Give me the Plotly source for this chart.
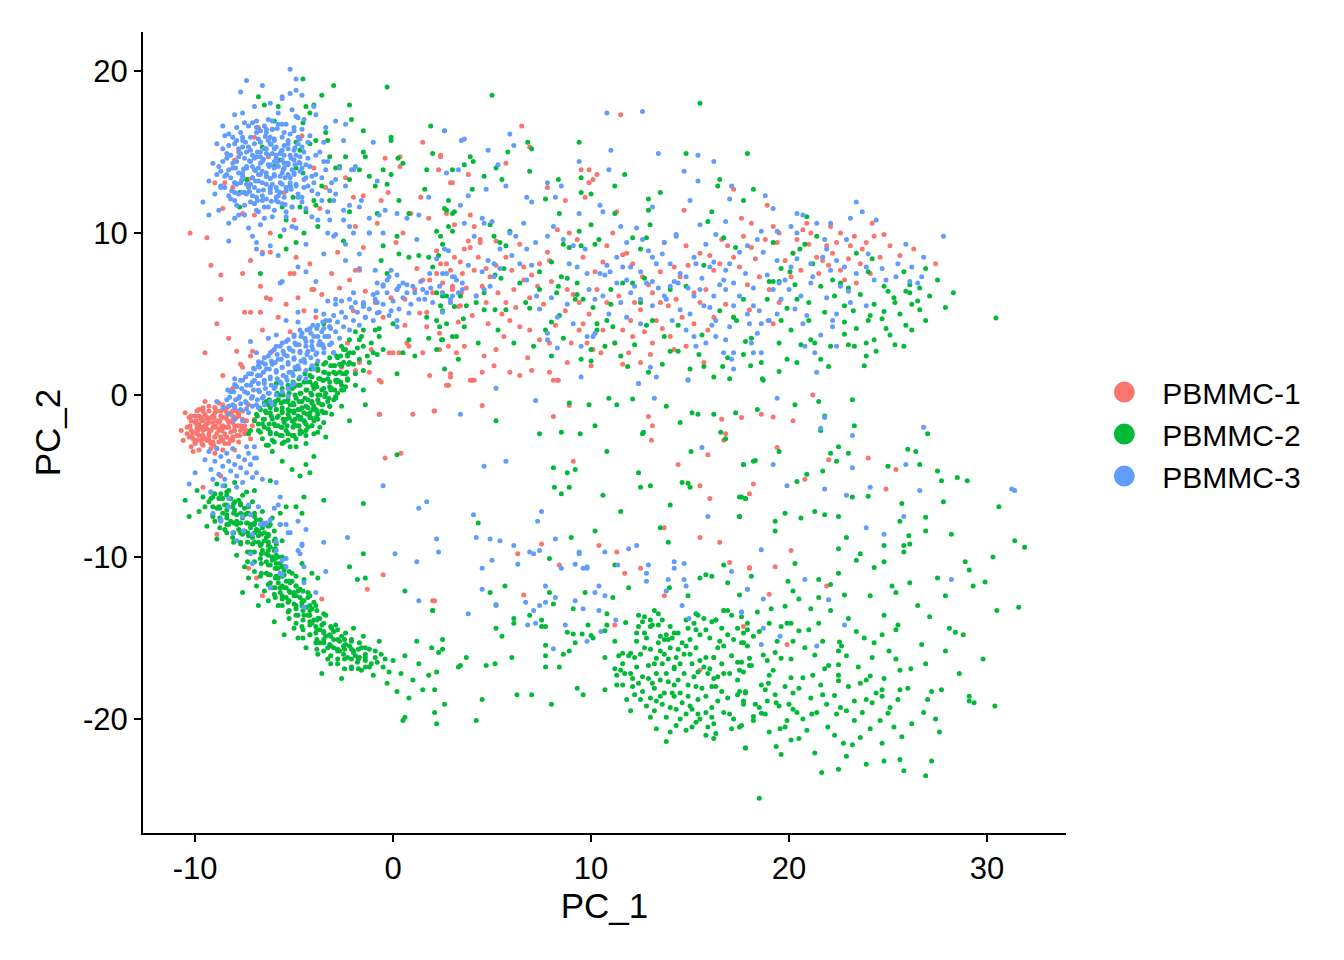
import plotly.graph_objects as go

samples = ["PBMMC-1", "PBMMC-2", "PBMMC-3"]
colors = ["#F8766D", "#00BA38", "#619CFF"]

x_ticks = [-10, 0, 10, 20, 30]
x_tick_labels = ["-10", "0", "10", "20", "30"]
y_ticks = [-20, -10, 0, 10, 20]
y_tick_labels = ["-20", "-10", "0", "10", "20"]

# ---- PBMMC-1 ----
pbmmc1_blob = [
    (-10.5,-1.1),(-10.4,-2.0),(-10.3,-2.6),(-10.2,-1.6),(-10.1,-2.3),(-10.0,-1.3),(-10.0,-2.9),(-9.9,-1.9),
    (-9.8,-2.5),(-9.8,-0.9),(-9.7,-1.5),(-9.6,-2.2),(-9.6,-3.1),(-9.5,-1.2),(-9.5,-2.7),(-9.4,-1.8),
    (-9.3,-0.7),(-9.3,-2.4),(-9.2,-1.4),(-9.2,-3.0),(-9.1,-2.0),(-9.0,-1.1),(-9.0,-2.6),(-8.9,-1.6),
    (-8.9,-3.3),(-8.8,-2.2),(-8.8,-0.5),(-8.7,-1.3),(-8.6,-2.8),(-8.6,-1.9),(-8.5,-0.9),(-8.5,-2.4),
    (-8.4,-1.5),(-8.3,-3.0),(-8.3,-2.0),(-8.2,-1.1),(-8.1,-2.6),(-8.1,-1.7),(-8.0,-0.7),(-8.0,-2.2),
    (-7.9,-1.4),(-7.8,-2.9),(-7.7,-1.9),(-7.6,-1.0),(-7.5,-2.4),(-7.4,-1.6),(-7.3,-0.6),(-9.9,-2.1),
    (-9.4,-2.1),(-8.7,-2.0),(-9.1,-1.7),(-9.7,-2.8),(-8.4,-2.6),(-10.7,-2.2),(-10.2,-3.2),(-9.0,-3.6),
    (-8.0,-3.4),(-9.5,-0.4),(-7.1,-1.9),(-7.2,-2.7),(-9.8,-3.4),(-10.6,-2.8),
    (-10.3,-1.4),(-10.1,-2.7),(-10.0,-1.7),(-9.9,-2.4),(-9.8,-1.3),(-9.7,-2.0),(-9.6,-1.6),(-9.6,-2.5),
    (-9.5,-1.9),(-9.4,-1.4),(-9.4,-2.8),(-9.3,-1.7),(-9.2,-2.2),(-9.1,-1.3),(-9.1,-2.9),(-9.0,-1.9),
    (-8.9,-2.4),(-8.9,-1.0),(-8.8,-1.7),(-8.7,-2.6),(-8.6,-1.4),(-8.5,-2.0),(-8.5,-3.0),(-8.4,-1.1),
    (-8.3,-1.7),(-8.2,-2.3),(-8.1,-1.3),(-8.0,-1.9),(-7.9,-2.5),(-7.8,-1.2),(-7.7,-2.2),(-7.6,-1.5),
    (-7.5,-1.9),(-9.8,-1.8),(-10.2,-2.2),(-9.3,-2.6),(-8.8,-2.9),(-8.2,-2.8),(-9.0,-0.8),(-9.6,-1.0),
    (-10.4,-2.4),(-8.6,-0.6),(-7.9,-1.0),(-7.4,-2.2),(-7.0,-1.5),(-9.2,-3.3),(-8.6,-3.4),(-10.0,-3.0),
]
pbmmc1_blob_core = [
    (-10.2,-1.3),(-10.25,-1.9),(-10.15,-2.5),(-9.9,-1.0),(-9.95,-1.6),(-9.85,-2.2),(-9.9,-2.8),
    (-9.6,-0.8),(-9.65,-1.4),(-9.55,-2.0),(-9.6,-2.6),(-9.65,-3.0),(-9.3,-1.0),(-9.35,-1.6),(-9.25,-2.2),
    (-9.3,-2.8),(-9.0,-0.8),(-9.05,-1.4),(-8.95,-2.0),(-9.0,-2.6),(-9.05,-3.1),(-8.7,-1.0),(-8.75,-1.6),
    (-8.65,-2.2),(-8.7,-2.8),(-8.4,-0.8),(-8.45,-1.4),(-8.35,-2.0),(-8.4,-2.6),(-8.1,-1.0),(-8.15,-1.6),
    (-8.05,-2.2),(-8.1,-2.8),(-7.8,-1.3),(-7.85,-1.9),(-7.75,-2.5),(-7.5,-1.6),(-7.55,-2.1),
]
pbmmc1_arm = [
    (-10.25,10.0),(-8.7,7.4),(-8.7,5.9),(-8.3,3.5),(-7.9,2.7),(-7.6,7.5),(-7.5,5.1),(-7.2,5.1),(-7.2,8.3),
    (-6.7,6.7),(-6.7,5.1),(-6.6,4.0),(-6.4,6.0),(-6.2,5.9),(-5.8,4.8),(-5.4,5.6),(-5.2,7.5),(-5.0,7.5),
    (-4.9,8.5),(-4.8,6.0),(-4.2,8.1),(-4.1,6.5),(-3.9,4.8),(-3.6,6.2),(-3.2,4.2),(-2.7,6.6),(-2.2,7.1),
    (-2.0,5.2),(-1.7,7.7),(-1.4,6.4),(-0.9,5.7),(-0.5,4.8),(-0.1,6.0),(0.0,2.6),(-0.7,0.9),(-0.7,-1.2),
    (-1.2,1.4),(-1.9,1.5),(-2.6,1.7),(-7.6,1.7),(-7.2,2.4),(-10.1,-3.5),
    (-9.0,13.1),(-8.5,13.1),(-8.1,12.8),(-8.0,14.5),(-7.6,11.2),(-7.0,11.1),(-6.6,8.8),(-6.2,8.8),
    (-6.2,10.0),(-4.0,6.5),(-3.4,12.8),(-2.8,8.8),(-2.4,13.4),(-2.0,12.2),(-1.9,10.4),(-1.5,12.3),
    (-0.8,10.6),(-0.6,12.0),(-0.25,12.5),(-0.4,14.6),(0.35,14.7),(0.35,14.1),(0.15,9.4),(0.5,10.0),
    (1.5,15.6),(2.3,13.9),(2.4,14.7),(2.9,13.1),(1.4,12.2),(0.9,11.2),(1.8,10.9),(-1.5,9.1),(-1.9,7.7),
    (-7.0,15.9),(-7.8,15.0),(-6.3,14.7),(-5.5,12.5),(-4.0,14.0),(-6.8,16.5),(-5.0,10.8),(-3.7,11.5),
    (-7.3,13.3),(-4.6,16.0),(-8.6,11.5),(-9.4,9.7),(-9.2,8.0),(-8.9,4.4),(-9.5,2.6),(-8.6,1.2),
    (-8.1,0.4),(-6.1,2.7),(-5.2,3.9),(-4.5,5.2),(-3.1,7.5),(-2.3,3.2),(-1.1,2.8),(0.6,4.3),(1.2,7.8),
    (1.7,5.1),(-7.1,2.7),(-7.7,1.9),(-1.7,2.0),(-0.6,0.8),(1.85,1.2),(2.9,1.3),(-0.2,2.6),(0.7,3.2),
    (1.5,2.6),(2.35,2.8),
]
pbmmc1_band = [
    (2.7,11.2),(3.1,10.5),(3.9,11.1),(4.1,10.4),(3.8,9.5),(4.4,9.6),(3.6,9.0),(3.9,9.1),(2.7,8.1),
    (3.4,8.2),(4.1,7.7),(4.7,7.8),(4.9,7.3),(4.5,6.7),(3.7,6.6),(3.0,6.5),(2.5,6.9),(2.9,5.7),(3.4,5.5),
    (4.2,6.1),(4.7,5.7),(5.3,6.3),(5.7,5.7),(6.1,6.5),(6.6,7.1),(5.9,4.6),(6.4,4.2),(6.9,4.0),(7.4,3.4),
    (7.9,3.2),(5.6,3.6),(5.2,2.8),(4.6,2.4),(3.6,3.0),(2.9,1.1),(2.7,0.6),(4.0,0.9),(4.5,1.4),(5.1,1.8),
    (5.9,1.4),(6.4,1.2),(7.0,1.5),(7.9,1.4),(8.3,0.9),(8.8,2.0),(9.0,3.2),(9.4,4.0),(9.8,3.2),(10.1,2.8),
    (10.5,2.6),(9.4,5.7),(8.8,6.5),(7.9,8.3),(7.4,8.1),(7.3,6.7),(8.3,10.2),(8.9,10.0),(9.3,9.6),
    (7.8,8.8),(6.6,7.9),(6.4,9.3),(5.7,8.5),(5.2,9.5),(4.4,9.4),
    (2.4,8.1),(2.2,7.5),(1.85,7.1),(2.5,6.3),(3.0,6.7),(3.45,6.3),(3.3,5.45),(2.0,6.3),(1.5,7.1),
    (1.1,6.5),(1.35,5.05),(0.6,5.9),(1.7,4.2),(2.35,3.8),(2.8,3.0),(3.2,2.6),(0.8,3.0),(0.3,2.6),
    (2.9,7.7),(3.1,8.5),(2.2,8.9),
    (11.5,17.3),(6.5,16.6),(2.4,14.8),(6.9,15.3),(5.7,14.3),(9.5,13.9),(9.9,13.9),(10.3,13.6),
    (10.1,13.3),(9.9,13.1),(9.7,12.2),(7.8,12.8),(8.7,12.0),(3.8,13.6),(3.0,13.1),(11.3,11.3),
    (14.7,11.4),(17.2,12.7),(18.9,11.7),(17.6,10.9),(18.1,10.6),
    (10.8,9.2),(11.6,8.65),(11.8,8.75),(12.1,8.1),(12.6,7.3),(13.1,6.3),(13.5,5.7),(12.5,5.25),
    (12.0,4.6),(11.6,4.0),(12.1,3.6),(13.1,3.2),(14.0,3.6),(14.2,2.8),(14.8,3.0),(15.2,4.4),(15.5,5.7),
    (15.8,6.5),(15.2,6.3),(14.5,7.3),(14.2,7.9),(13.7,9.4),(14.8,9.2),(15.5,8.75),(16.2,7.7),(16.5,8.1),
    (16.9,9.2),(17.2,8.5),(17.7,9.8),(18.1,9.1),(18.5,7.3),(19.0,6.5),(19.5,5.7),(20.1,7.3),(20.6,7.7),
    (20.2,8.75),(19.5,10.0),(19.2,10.4),(19.4,9.4),(20.4,9.6),(21.1,10.0),(21.4,8.5),(21.9,9.2),
    (21.7,8.3),(22.2,8.75),(22.6,7.7),(22.4,9.4),(23.1,9.2),(23.3,9.8),(23.6,8.1),(23.9,9.4),(24.3,9.8),
    (25.1,9.2),(24.1,7.5),(24.6,8.5),(22.8,7.1),(22.1,10.4),(20.9,10.6),(27.4,8.1),(23.4,6.9),(19.2,4.4),
    (18.0,5.25),(17.2,4.8),(16.2,4.8),(15.7,2.0),(12.5,2.0),(11.6,1.9),(10.8,5.7),(10.3,6.5),(9.6,4.4),
    (11.1,10.0),(12.2,5.7),(13.3,4.6),
]
pbmmc1_band_more = [
    (3.3,4.5),(4.0,4.9),(4.8,4.4),(5.5,5.0),(6.2,5.4),(6.9,6.0),(7.6,5.6),(8.2,4.3),(8.7,5.2),(9.1,6.2),
    (7.0,7.4),(6.0,7.7),(5.2,8.0),(4.3,8.5),(3.5,7.5),(8.0,7.0),(9.9,5.0),(10.6,4.0),(11.2,3.2),(11.9,2.6),
    (12.7,3.9),(13.6,4.1),(14.6,4.8),(13.9,5.5),(12.9,6.8),(11.4,6.1),(10.2,7.6),(9.6,8.5),(10.6,8.2),
    (13.5,7.6),(14.9,8.0),(16.0,8.6),(16.6,9.6),(17.5,7.9),(18.3,8.4),(18.8,9.6),(19.8,8.3),(21.0,9.3),
    (21.5,7.5),(22.0,8.0),(23.0,8.4),(23.7,9.0),(24.8,9.9),(25.6,8.6),(26.3,9.0),(20.7,10.2),(22.6,10.0),
    (24.2,10.6),(17.9,6.8),(16.8,5.6),(15.9,4.0),(14.3,5.9),(13.0,2.5),(10.0,1.8),(6.8,2.3),
]
pbmmc1_low = [
    (-0.68,-1.2),(1.0,-1.2),(2.07,-1.0),(-0.4,-3.9),(0.4,-3.6),(-0.5,-11.1),(-1.3,-12.0),(-3.6,-12.6),
    (2.1,-12.7),(-6.6,-12.4),(-8.7,-5.0),(-9.6,-5.7),
    (2.8,0.6),(3.9,0.9),(4.1,0.9),(8.1,0.9),(8.35,0.9),(2.1,-1.0),(4.5,-0.66),(8.1,-1.34),(8.9,-0.66),
    (12.9,-1.34),(13.1,-1.9),(13.05,-2.8),(16.6,-1.5),(16.8,-2.4),(16.7,-2.8),(17.6,-1.4),(9.1,-4.1),
    (14.4,-4.3),(15.9,-3.7),(15.5,-5.6),(16.0,-6.4),(18.0,-6.1),(13.7,-8.2),(15.5,-8.8),(16.5,-9.1),
    (7.5,-9.2),(6.3,-9.8),(8.4,-10.5),(10.4,-9.3),(11.3,-9.7),(11.7,-11.0),(12.5,-10.7),(17.0,-10.35),
    (18.0,-10.7),(6.6,-12.35),(2.0,-12.7),(13.7,-12.4),(16.7,-13.3),(17.7,-14.3),(11.2,-14.2),
    (16.2,-16.2),(15.5,-17.0),
    (21.2,0.0),(18.6,-1.2),(19.2,-1.36),(20.2,-1.6),(19.4,-3.25),(22.0,-4.0),(24.0,-3.9),(25.4,-4.6),
    (24.9,-5.8),(20.8,-5.2),(18.2,-5.5),(20.1,-9.6),(18.0,-10.65),(19.3,-10.6),(19.0,-12.3),
    (21.9,-11.8),(19.9,-15.4),(-8.9,-8.6),(-7.3,-10.7),(-6.9,-11.3),
]

# ---- PBMMC-2 ----
pbmmc2_blob = [
    (-7.0,-1.6),(-6.8,-2.2),(-6.7,-0.9),(-6.6,-2.7),(-6.5,-1.5),(-6.4,-0.4),(-6.3,-2.1),(-6.2,-1.1),
    (-6.1,-2.8),(-6.0,-0.6),(-6.0,-1.8),(-5.9,-2.4),(-5.8,-1.3),(-5.7,0.0),(-5.6,-0.8),(-5.6,-2.0),
    (-5.5,-2.9),(-5.4,-1.5),(-5.3,-0.3),(-5.3,-2.4),(-5.2,-1.0),(-5.1,0.4),(-5.0,-1.8),(-5.0,-0.6),
    (-4.9,-2.7),(-4.8,-1.3),(-4.7,0.1),(-4.7,-2.2),(-4.6,-0.8),(-4.5,0.8),(-4.5,-1.6),(-4.4,-2.5),
    (-4.3,-0.3),(-4.2,-1.1),(-4.2,1.2),(-4.1,-1.9),(-4.0,0.4),(-4.0,-0.7),(-3.9,-1.4),(-3.8,1.6),
    (-3.8,-2.3),(-3.7,0.0),(-3.6,-1.0),(-3.5,0.9),(-3.5,-1.7),(-3.4,2.0),(-3.3,-0.4),(-3.2,0.5),
    (-3.1,-1.2),(-3.0,1.4),(-3.0,2.6),(-2.9,-0.1),(-2.8,0.9),(-2.7,1.9),(-2.6,-0.7),(-2.6,3.0),
    (-2.5,0.3),(-2.4,1.3),(-2.3,2.4),(-2.2,3.4),(-2.0,1.9),(-1.9,0.6),(-1.8,2.9),(-1.6,3.6),(-1.5,1.5),
    (-1.3,2.4),(-1.1,3.2),(-0.9,4.0),(-6.3,-3.1),(-5.2,-3.2),(-4.4,-3.0),(-3.4,-2.6),(-7.3,-2.4),
    (-5.9,0.7),(-4.9,1.6),(-2.2,-1.6),(-3.6,3.1),(-1.4,-0.6),
    (-6.9,-1.2),(-6.6,-1.8),(-6.4,-1.1),(-6.2,-2.4),(-6.1,-1.5),(-5.9,-0.9),(-5.8,-1.9),(-5.7,-2.5),
    (-5.6,-1.1),(-5.5,-0.4),(-5.5,-1.7),(-5.4,-2.2),(-5.3,-1.2),(-5.2,-0.6),(-5.1,-1.6),(-5.1,-2.5),
    (-5.0,-1.1),(-4.9,-0.2),(-4.9,-1.9),(-4.8,-0.9),(-4.7,-1.5),(-4.6,-2.3),(-4.6,-0.4),(-4.5,-1.1),
    (-4.4,-1.8),(-4.4,0.3),(-4.3,-0.8),(-4.3,-2.0),(-4.2,-1.4),(-4.1,0.0),(-4.1,-0.5),(-4.0,-1.6),
    (-3.9,-0.9),(-3.9,0.7),(-3.8,-0.3),(-3.8,-1.2),(-3.7,-2.0),(-3.6,0.3),(-3.6,-0.6),(-3.5,1.4),
    (-3.4,-1.1),(-3.4,0.1),(-3.3,1.0),(-3.2,-0.7),(-3.1,0.4),(-3.0,1.8),(-3.0,-0.3),(-2.9,0.9),
    (-2.8,2.3),(-2.8,0.1),(-2.7,1.4),(-2.6,0.6),(-2.5,2.0),(-2.4,2.8),(-2.3,1.0),(-2.2,2.0),(-2.0,2.6),
    (-1.9,1.3),(-1.7,2.2),(-1.5,3.0),(-1.2,2.0),(-5.8,-0.3),(-6.3,-0.6),(-6.7,-2.3),(-5.3,-2.8),
    (-4.0,-2.4),(-4.8,0.6),(-4.2,0.8),(-3.7,1.0),(-6.0,-2.9),
]
pbmmc2_blob_core = [
    (-6.8,-1.8),(-6.85,-1.3),(-6.75,-0.8),(-6.5,-2.0),(-6.55,-1.5),(-6.45,-1.0),(-6.5,-0.5),
    (-6.2,-2.3),(-6.25,-1.8),(-6.15,-1.3),(-6.2,-0.8),(-6.25,-0.3),(-5.9,-2.4),(-5.95,-1.9),(-5.85,-1.4),
    (-5.9,-0.9),(-5.95,-0.4),(-5.85,0.1),(-5.6,-2.5),(-5.65,-2.0),(-5.55,-1.5),(-5.6,-1.0),(-5.65,-0.5),
    (-5.55,0.0),(-5.6,0.4),(-5.3,-2.4),(-5.35,-1.9),(-5.25,-1.4),(-5.3,-0.9),(-5.35,-0.4),(-5.25,0.1),
    (-5.3,0.6),(-5.0,-2.5),(-5.05,-2.0),(-4.95,-1.5),(-5.0,-1.0),(-5.05,-0.5),(-4.95,0.0),(-5.0,0.5),
    (-5.05,0.8),(-4.7,-2.4),(-4.75,-1.9),(-4.65,-1.4),(-4.7,-0.9),(-4.75,-0.4),(-4.65,0.1),(-4.7,0.6),
    (-4.75,1.0),(-4.4,-2.2),(-4.45,-1.7),(-4.35,-1.2),(-4.4,-0.7),(-4.45,-0.2),(-4.35,0.3),(-4.4,0.8),
    (-4.45,1.3),(-4.1,-1.9),(-4.15,-1.4),(-4.05,-0.9),(-4.1,-0.4),(-4.15,0.1),(-4.05,0.6),(-4.1,1.1),
    (-4.15,1.6),(-3.8,-1.5),(-3.85,-1.0),(-3.75,-0.5),(-3.8,0.0),(-3.85,0.5),(-3.75,1.0),(-3.8,1.5),
    (-3.85,1.9),(-3.5,-1.1),(-3.55,-0.6),(-3.45,-0.1),(-3.5,0.4),(-3.55,0.9),(-3.45,1.4),(-3.5,1.9),
    (-3.2,-0.7),(-3.25,-0.2),(-3.15,0.3),(-3.2,0.8),(-3.25,1.3),(-3.15,1.8),(-3.2,2.3),(-2.9,-0.2),
    (-2.95,0.3),(-2.85,0.8),(-2.9,1.3),(-2.95,1.8),(-2.85,2.4),(-2.6,0.3),(-2.65,0.8),(-2.55,1.3),
    (-2.6,1.8),(-2.65,2.4),(-2.3,0.9),(-2.35,1.4),(-2.25,1.9),(-2.3,2.5),
]
pbmmc2_upper = [
    (-4.55,19.5),(-3.0,19.1),(-6.8,18.4),(-6.5,17.9),(-5.8,17.8),(-4.4,17.8),(-4.0,17.9),(-3.6,18.5),
    (-2.2,17.9),(-0.3,19.0),(-2.1,17.0),(-3.4,16.2),(-3.3,15.7),(-3.9,15.7),(-4.2,15.5),(-4.55,16.8),
    (-4.2,17.4),(-4.9,15.6),(-4.7,15.1),(-6.1,16.4),(-5.7,14.5),(-5.4,14.3),(-4.9,14.0),(-4.55,13.7),
    (-5.2,12.9),(-5.05,12.2),(-5.6,11.6),(-4.7,11.6),(-4.4,11.3),(-5.4,10.8),(-5.7,9.8),(-4.5,10.0),
    (-3.8,10.4),(-3.2,14.7),(-2.4,14.7),(-2.9,14.0),(-2.2,13.3),(-1.5,16.3),(-1.5,15.0),(-1.4,14.7),
    (-0.5,13.9),(-0.1,15.9),(-0.1,15.7),(0.25,14.6),(0.5,14.3),(-0.1,13.6),(-0.3,13.0),(-0.9,12.9),
    (-1.2,13.5),(-1.7,13.9),(-2.7,14.1),(1.9,16.6),(1.7,13.9),(2.0,14.9),(1.6,12.7),(2.6,11.5),
    (2.8,10.4),(2.2,10.1),(3.0,11.2),(0.3,12.0),(0.8,11.2),(0.2,9.8),(-0.5,9.2),(-0.6,8.3),(-0.3,7.5),
    (0.3,8.7),(0.8,8.5),(1.3,8.6),(1.8,8.5),(2.3,8.6),(2.0,7.9),(2.2,6.3),(2.7,6.1),(2.5,5.2),(3.1,5.45),
    (1.7,4.8),(2.2,4.6),(2.35,4.2),(1.8,3.5),(2.5,3.4),(3.2,3.6),(2.2,2.8),(1.1,2.4),(0.5,2.6),(0.8,3.4),
    (0.0,4.4),(-0.5,2.8),(-1.0,2.6),(-1.7,3.4),(-1.9,3.9),(-2.2,2.6),(-2.5,2.8),(-0.7,3.6),(-0.7,4.1),
    (-1.5,4.0),(-3.5,4.4),(-6.7,7.5),(-7.75,11.6),(-5.4,9.0),(-4.9,9.4),(-2.5,9.5),(-3.2,12.0),
    (-4.0,12.0),(-6.0,14.1),(-6.4,13.5),(-6.6,15.3),(-6.0,16.9),(-7.4,13.3),(-7.75,12.5),(-3.6,12.9),
    (-3.9,11.7),(-0.8,11.2),(-2.2,11.3),
    (5.0,18.5),(15.5,18.0),(6.8,15.6),(7.0,15.2),(5.8,15.0),(3.9,14.7),(4.05,14.4),(3.6,14.2),(5.2,14.0),
    (3.0,13.9),(4.6,13.5),(5.5,13.3),(6.9,13.8),(9.4,15.6),(11.7,13.6),(11.2,12.9),(14.8,14.9),
    (17.9,14.9),(16.5,13.3),(16.4,12.9),(18.2,12.7),(17.7,12.0),(13.5,12.5),(12.9,12.1),(9.5,12.5),
    (10.0,12.4),(9.5,13.4),(8.35,13.3),(7.7,12.1),(8.4,11.2),(11.2,11.2),(12.9,11.4),(16.1,11.3),
    (15.9,10.7),(12.98,10.5),(10.0,10.5),(9.4,10.1),(12.1,9.7),(10.4,9.6),(10.2,9.3),(9.5,9.2),(8.9,9.1),
    (8.6,9.3),(8.0,8.2),(7.4,7.6),(8.5,7.3),(8.8,7.2),(8.35,6.7),(9.3,6.2),(9.6,5.9),(10.1,5.4),
    (10.3,4.4),(10.8,4.6),(11.1,4.2),(10.0,2.8),(11.2,3.2),(11.85,1.75),(12.9,1.4),(14.0,2.7),(14.4,2.7),
    (15.45,2.5),(15.7,1.75),(16.65,1.75),(17.0,1.0),(18.06,1.8),(18.65,1.0),(17.7,2.5),(18.1,3.5),
    (17.35,4.6),(17.2,4.8),(17.7,5.9),(17.3,9.1),(16.7,9.7),(15.7,8.0),(14.8,6.7),(14.4,4.3),(14.0,6.5),
    (12.5,9.0),(12.8,9.7),(12.1,6.9),(12.7,7.2),(11.6,6.9),(11.0,6.5),(11.0,5.6),(12.5,5.7),(12.8,4.3),
    (13.1,4.6),(19.2,9.4),(20.05,7.6),(19.2,7.0),(19.0,7.0),(19.5,7.0),(20.2,8.75),(20.55,9.0),(20.8,9.3),
    (20.9,11.0),(21.2,8.1),(21.6,6.7),(20.4,5.9),(19.9,5.35),(19.6,4.6),(21.0,4.6),(20.6,3.1),(21.1,3.4),
    (21.3,3.2),(22.0,1.75),(19.5,3.2),(19.9,2.2),(20.4,2.0),(19.5,1.45),(22.2,7.1),(22.6,6.9),(23.0,6.6),
    (22.8,5.5),(23.25,5.2),(22.8,4.5),(22.8,3.75),(23.0,3.1),(23.3,3.0),(23.4,8.75),(24.1,4.9),(24.0,4.6),
    (23.9,2.4),(23.8,1.8),(24.3,3.4),(24.2,8.4),(24.7,4.7),(24.8,5.15),(24.9,4.1),(24.8,6.7),(25.3,6.0),
    (25.35,5.7),(25.8,7.6),(25.9,6.4),(26.1,6.8),(26.1,6.3),(26.5,5.8),(26.6,5.25),(26.6,6.6),(26.9,7.8),
    (26.2,4.0),(25.35,3.1),(25.8,3.0),(27.9,5.4),(23.9,3.2),(30.45,4.75),
    (2.4,9.8),(2.5,9.3),(2.8,12.0),(2.7,11.4),(3.1,11.3),(3.0,10.1),(4.0,12.7),(4.9,10.5),(5.1,9.8),
    (5.4,9.4),(5.7,9.2),(5.9,10.1),(5.6,7.8),(5.45,7.2),(5.15,7.4),(4.6,6.3),(4.2,5.7),(3.7,5.5),(3.4,6.1),
    (2.5,6.1),(2.4,5.5),(2.7,4.4),(3.55,4.7),(3.6,4.2),(3.0,3.6),(2.45,3.4),(4.6,5.25),(5.15,5.25),
    (5.7,5.25),(6.4,6.9),(6.7,5.7),(6.9,5.35),(7.4,6.5),(7.7,4.0),(8.0,2.4),(8.26,6.3),(8.4,4.9),(9.2,5.9),
    (9.3,6.9),(10.3,4.0),(10.0,2.1),
]
pbmmc2_band_more = [
    (19.6,7.8),(20.3,6.8),(21.0,5.7),(21.8,5.1),(22.3,6.1),(23.6,6.2),(24.3,5.6),(25.0,6.4),(25.6,5.0),
    (26.2,5.6),(27.1,6.1),(26.9,4.6),(25.9,4.3),(25.1,3.7),(24.4,2.7),(23.4,4.1),(22.1,3.0),(21.6,2.2),
    (20.1,4.0),(18.6,2.0),(17.8,3.3),(16.9,2.3),(16.2,1.1),(15.0,1.6),(13.6,1.9),(12.2,3.1),(11.5,2.4),
    (10.7,3.0),(9.5,2.2),(8.6,3.5),(8.0,4.5),(7.1,3.0),(6.1,3.2),(5.3,4.0),(4.3,3.2),(3.3,2.2),(2.6,1.6),
    (13.7,3.6),(15.6,3.7),(16.5,5.2),(18.9,5.9),(27.5,7.1),(28.3,6.3),(24.0,7.6),(21.4,9.8),
]
pbmmc2_arc = [
    (-7.2,-2.2),(-6.4,-3.1),(-6.1,-3.5),(-5.6,-3.0),(-4.9,-3.2),(-5.6,-4.1),(-5.1,-4.6),(-4.7,-5.0),
    (-4.4,-4.3),(-4.0,-3.8),(-4.2,-4.8),(-3.5,-6.5),(-4.5,-6.3),(-5.4,-6.9),(-5.7,-7.3),(-1.5,-6.7),
    (0.2,-3.7),(-1.5,0.3),(-2.4,0.5),(-2.5,2.0),(-0.8,2.5),(0.2,1.3),(-1.5,-9.8),(-1.8,-11.4),
    (-1.4,-11.3),(-2.2,-10.6),(-3.8,-11.3),(0.6,-12.1),(2.0,-13.3),(-6.2,-5.3),(-4.9,-6.9),(-4.6,-7.3),
    (-9.9,-5.9),(-9.6,-6.3),(-9.8,-7.2),(-9.3,-6.6),(-9.1,-7.4),(-9.0,-6.1),(-8.8,-6.9),(-8.7,-7.7),
    (-8.6,-6.4),(-8.5,-8.3),(-8.4,-7.1),(-8.3,-5.9),(-8.2,-7.8),(-8.1,-8.8),(-8.0,-6.6),(-7.9,-7.4),
    (-7.8,-8.3),(-7.7,-9.2),(-7.6,-6.2),(-7.5,-7.0),(-7.4,-7.9),(-7.3,-8.7),(-7.2,-9.7),(-7.1,-6.6),
    (-7.0,-7.5),(-6.9,-8.3),(-6.8,-9.1),(-6.7,-10.1),(-6.6,-7.2),(-6.5,-8.0),(-6.4,-8.8),(-6.3,-9.6),
    (-6.2,-10.5),(-6.1,-7.6),(-6.0,-8.4),(-5.9,-9.2),(-5.8,-10.0),(-5.7,-8.0),(-5.6,-9.0),(-5.5,-10.8),
    (-9.4,-8.1),(-8.9,-8.9),(-7.9,-9.9),(-8.5,-5.6),(-7.0,-5.9),(-10.3,-7.5),(-10.5,-6.5),
    (-7.5,-10.6),(-7.3,-11.3),(-7.0,-10.9),(-6.9,-11.8),(-6.7,-11.2),(-6.5,-12.1),(-6.4,-11.0),
    (-6.3,-12.7),(-6.2,-11.6),(-6.0,-12.3),(-5.9,-11.2),(-5.8,-13.0),(-5.7,-11.9),(-5.6,-12.6),
    (-5.5,-10.6),(-5.4,-11.5),(-5.3,-13.4),(-5.2,-12.2),(-5.1,-11.0),(-5.0,-12.9),(-4.9,-11.8),
    (-4.8,-13.6),(-4.7,-12.5),(-4.6,-10.4),(-4.5,-11.4),(-4.4,-13.1),(-4.3,-12.2),(-4.2,-14.0),
    (-4.1,-11.0),(-4.0,-12.8),(-6.8,-13.0),(-7.6,-12.2),(-6.0,-14.0),(-5.0,-14.4),
    (-4.8,-15.0),(-4.6,-14.3),(-4.4,-15.6),(-4.2,-14.8),(-4.0,-13.9),(-3.9,-15.3),(-3.8,-16.0),
    (-3.7,-14.5),(-3.5,-15.1),(-3.4,-13.6),(-3.3,-16.3),(-3.2,-14.8),(-3.0,-15.6),(-2.9,-14.2),
    (-2.8,-16.6),(-2.7,-15.2),(-2.5,-16.0),(-2.4,-14.7),(-2.2,-15.5),(-2.1,-16.8),(-2.0,-14.4),
    (-1.9,-16.1),(-1.7,-15.3),(-1.6,-17.0),(-1.5,-14.9),(-1.4,-16.4),(-1.2,-15.7),(-1.0,-17.3),
    (-0.9,-16.2),(-0.7,-15.2),(-5.5,-14.8),(-3.6,-17.2),(-2.6,-17.5),
    (-0.5,-16.8),(-0.3,-17.8),(0.0,-16.4),(0.2,-18.3),(0.4,-17.2),(0.6,-16.1),(0.8,-18.7),(1.0,-17.6),
    (1.3,-16.6),(1.5,-18.2),(1.8,-17.3),(0.5,-20.1),(1.2,-15.2),(0.6,-19.9),
    (-9.5,-6.9),(-9.2,-6.0),(-9.0,-7.8),(-8.8,-6.4),(-8.6,-7.3),(-8.4,-6.0),(-8.3,-8.0),(-8.1,-6.9),
    (-7.9,-7.8),(-7.8,-6.5),(-7.6,-8.6),(-7.5,-7.4),(-7.3,-6.9),(-7.2,-8.2),(-7.1,-9.2),(-7.0,-8.0),
    (-6.8,-8.7),(-6.7,-7.7),(-6.6,-9.6),(-6.5,-8.5),(-6.4,-10.3),(-6.3,-9.1),(-6.2,-8.0),(-6.1,-10.0),
    (-6.0,-9.6),(-5.9,-10.7),(-5.8,-11.6),(-5.7,-10.4),(-5.5,-11.9),(-5.4,-12.5),(-5.2,-11.6),
    (-5.0,-12.2),(-4.8,-12.1),(-4.6,-13.0),(-4.5,-12.7),(-4.3,-13.6),(-4.1,-13.2),(-3.9,-14.3),
    (-3.7,-13.8),(-3.5,-14.6),(-3.2,-15.4),(-3.0,-14.6),(-2.7,-15.8),(-2.4,-15.4),(-2.0,-15.9),
    (-1.7,-16.2),(-1.1,-16.6),(-0.6,-16.0),(-0.2,-17.1),(-8.9,-5.5),(-8.0,-5.4),(-7.4,-6.0),
]
pbmmc2_arc_core = [
    (-9.2,-6.4),(-8.9,-7.0),(-8.7,-6.1),(-8.5,-6.8),(-8.4,-7.6),(-8.2,-6.4),(-8.0,-7.1),(-7.9,-8.0),
    (-7.7,-6.8),(-7.6,-7.6),(-7.5,-8.4),(-7.3,-7.3),(-7.2,-8.0),(-7.1,-8.8),(-6.9,-7.7),(-6.8,-8.4),
    (-6.7,-9.3),(-6.6,-8.2),(-6.5,-9.0),(-6.4,-9.8),(-6.3,-8.6),(-6.2,-9.4),(-6.1,-10.2),(-6.0,-9.0),
    (-5.9,-9.9),(-5.8,-10.7),(-6.2,-11.1),(-6.1,-11.9),(-5.9,-10.4),(-5.8,-11.3),(-5.7,-12.2),
    (-5.5,-11.1),(-5.4,-11.9),(-5.3,-12.8),(-5.1,-11.5),(-5.0,-12.4),(-4.9,-13.2),(-4.7,-12.0),
    (-4.6,-12.8),(-4.5,-13.6),(-4.3,-12.5),(-4.2,-13.3),(-4.1,-14.1),(-3.9,-13.0),(-3.8,-13.8),
    (-3.9,-14.7),(-3.7,-15.3),(-3.6,-14.2),(-3.4,-14.9),(-3.3,-15.6),(-3.1,-14.4),(-3.0,-15.1),
    (-2.8,-15.8),(-2.6,-14.9),(-2.5,-15.5),(-2.3,-16.2),(-2.1,-15.2),(-2.0,-15.8),(-1.8,-16.5),
    (-1.6,-15.6),(-1.4,-16.0),(-1.2,-16.8),(-0.9,-15.8),(-0.8,-16.5),(-0.4,-16.3),
]
pbmmc2_arc_fill = [
    (-9.1,-6.3),(-9.1,-6.9),(-9.1,-7.5),(-8.75,-6.4),(-8.75,-7.0),(-8.75,-7.6),(-8.75,-8.2),
    (-8.4,-6.2),(-8.4,-6.8),(-8.4,-7.4),(-8.4,-8.0),(-8.4,-8.5),(-8.05,-6.7),(-8.05,-7.3),(-8.05,-7.9),
    (-8.05,-8.5),(-8.05,-9.1),(-7.7,-6.7),(-7.7,-7.3),(-7.7,-7.9),(-7.7,-8.5),(-7.7,-9.1),
    (-7.35,-7.3),(-7.35,-7.9),(-7.35,-8.5),(-7.35,-9.1),(-7.35,-9.7),(-7.35,-10.3),
    (-7.0,-7.3),(-7.0,-7.9),(-7.0,-8.5),(-7.0,-9.1),(-7.0,-9.7),(-7.0,-10.3),
    (-6.65,-8.0),(-6.65,-8.6),(-6.65,-9.2),(-6.65,-9.8),(-6.65,-10.4),(-6.65,-11.0),
    (-6.3,-8.1),(-6.3,-8.7),(-6.3,-9.3),(-6.3,-9.9),(-6.3,-10.5),(-6.3,-11.1),(-6.3,-11.7),
    (-5.95,-8.9),(-5.95,-9.5),(-5.95,-10.1),(-5.95,-10.7),(-5.95,-11.3),(-5.95,-11.9),(-5.95,-12.5),
    (-5.6,-10.0),(-5.6,-10.6),(-5.6,-11.2),(-5.6,-11.8),(-5.6,-12.4),(-5.6,-13.0),
    (-5.25,-10.9),(-5.25,-11.5),(-5.25,-12.1),(-5.25,-12.7),(-5.25,-13.3),(-5.25,-13.8),
    (-4.9,-11.2),(-4.9,-11.8),(-4.9,-12.4),(-4.9,-13.0),(-4.9,-13.6),(-4.9,-14.1),
    (-4.55,-12.1),(-4.55,-12.7),(-4.55,-13.3),(-4.55,-13.9),(-4.55,-14.5),(-4.55,-15.0),
    (-4.2,-12.4),(-4.2,-13.0),(-4.2,-13.6),(-4.2,-14.2),(-4.2,-14.8),
    (-3.85,-13.3),(-3.85,-13.9),(-3.85,-14.5),(-3.85,-15.1),(-3.85,-15.7),
    (-3.5,-13.5),(-3.5,-14.1),(-3.5,-14.7),(-3.5,-15.3),(-3.5,-15.8),
    (-3.15,-14.3),(-3.15,-14.9),(-3.15,-15.5),(-3.15,-16.1),(-3.15,-16.6),
    (-2.8,-14.5),(-2.8,-15.1),(-2.8,-15.7),(-2.8,-16.3),(-2.45,-15.1),(-2.45,-15.7),(-2.45,-16.3),
    (-2.45,-16.9),(-2.1,-15.1),(-2.1,-15.7),(-2.1,-16.3),(-2.1,-16.9),(-1.75,-15.7),(-1.75,-16.3),
    (-1.75,-16.9),(-1.4,-15.6),(-1.4,-16.2),(-1.4,-16.8),
]
pbmmc2_core = [
    (11.2,-16.9),(11.3,-17.3),(11.5,-17.0),(11.7,-17.2),(11.4,-16.1),(11.9,-16.1),(12.2,-16.2),
    (12.1,-17.5),(12.6,-17.4),(12.7,-15.6),(12.9,-16.7),(13.0,-13.9),(13.2,-13.3),(13.4,-13.5),
    (13.6,-13.9),(13.5,-14.9),(13.9,-15.1),(14.0,-15.6),(13.9,-16.3),(14.2,-16.8),(14.3,-16.2),
    (14.7,-16.0),(15.0,-16.0),(14.8,-15.5),(15.0,-15.1),(15.3,-14.5),(15.5,-14.8),(15.8,-14.5),
    (16.1,-14.0),(16.3,-13.9),(16.6,-14.4),(16.9,-13.3),(17.1,-13.6),(17.4,-14.4),(17.7,-14.7),
    (17.6,-15.3),(17.2,-15.1),(16.7,-15.5),(16.4,-15.6),(16.2,-16.2),(15.8,-16.2),(15.4,-17.1),
    (15.9,-17.2),(16.2,-17.5),(16.1,-18.0),(15.6,-18.1),(15.3,-18.0),(15.1,-16.6),(14.5,-16.6),
    (14.2,-16.9),(13.8,-17.2),(13.9,-17.7),(14.2,-17.9),(14.1,-18.4),(13.7,-18.4),(13.3,-18.9),
    (13.6,-19.1),(14.0,-19.3),(14.3,-19.4),(14.8,-19.7),(15.1,-19.4),(15.4,-19.7),(15.8,-19.6),
    (16.1,-19.9),(16.2,-20.3),(15.9,-20.5),(15.3,-20.2),(15.5,-20.0),(15.0,-19.2),(14.9,-18.6),
    (14.5,-18.4),(14.2,-18.6),(13.5,-17.6),(13.3,-17.2),(13.2,-18.1),(12.6,-18.3),(12.5,-18.8),
    (12.2,-18.5),(13.0,-18.7),(13.0,-19.9),(13.3,-20.6),(13.8,-21.4),(14.0,-20.8),(14.3,-20.4),
    (14.8,-20.7),(16.3,-20.9),(16.2,-21.2),(17.1,-20.6),(17.2,-20.0),(17.6,-20.4),(17.8,-21.8),
    (17.0,-19.7),(17.4,-18.5),(17.7,-18.9),(17.8,-18.3),(16.9,-18.7),(16.4,-18.9),(16.3,-18.0),
    (16.7,-17.2),(17.0,-17.2),(17.4,-17.6),(17.4,-16.5),(17.7,-17.1),(17.9,-15.5),(18.0,-16.7),
    (17.9,-14.5),(17.9,-14.1),(17.6,-13.7),(16.7,-13.3),(16.3,-13.9),(15.4,-13.6),(15.3,-13.5),
    (15.2,-14.1),(14.8,-13.9),(14.4,-14.7),(14.2,-14.7),(13.8,-14.8),(14.0,-14.3),(13.7,-15.1),
    (13.4,-14.2),(13.1,-14.2),(12.7,-14.7),(12.4,-14.3),(12.3,-14.7),(12.4,-13.6),(12.7,-13.7),
    (12.6,-14.0),(13.0,-14.3),(12.0,-15.95),(11.6,-15.95),(13.5,-15.8),(13.3,-16.25),(13.2,-16.6),
    (12.0,-17.2),(12.1,-18.0),(11.6,-17.9),(11.3,-17.9),
    (12.3,-15.2),(12.8,-15.0),(13.4,-15.3),(14.1,-15.0),(14.6,-15.3),(15.3,-15.6),(16.0,-15.0),
    (16.6,-16.6),(12.5,-16.0),(13.0,-15.7),(13.7,-16.0),(14.4,-15.7),(15.5,-16.4),(16.0,-16.9),
    (12.9,-17.5),(13.6,-16.6),(14.7,-17.2),(15.2,-17.4),(15.7,-16.8),(16.4,-17.4),(12.4,-17.8),
    (13.1,-17.8),(14.4,-17.6),(14.9,-17.9),(15.8,-18.6),(16.6,-18.3),(12.8,-19.2),(13.5,-18.6),
    (14.6,-19.0),(15.4,-18.8),(16.1,-19.3),(16.7,-19.6),(13.2,-19.5),(13.8,-19.9),(14.5,-20.0),
    (15.1,-20.5),(15.8,-21.0),(12.0,-19.5),(11.8,-18.8),(11.6,-16.6),(12.3,-16.8),(14.9,-14.4),
    (15.7,-13.8),(16.5,-15.2),(17.1,-16.1),(16.9,-14.8),
]
pbmmc2_low = [
    (5.2,-1.6),(7.4,-2.4),(8.5,-2.3),(8.9,-0.5),(9.9,-0.6),(9.45,-2.4),(10.2,-1.9),(10.9,-0.2),
    (11.3,-0.6),(12.1,-0.25),(13.8,-0.7),(12.6,-2.4),(12.65,-2.3),(14.5,-1.7),(15.1,-1.1),(15.4,-1.2),
    (16.2,-1.2),(16.55,-2.3),(16.8,-2.7),(17.3,-1.1),(10.8,-3.5),(8.1,-4.5),(8.8,-4.8),(9.2,-4.6),
    (8.15,-5.7),(8.9,-5.7),(8.5,-6.1),(10.6,-6.2),(12.4,-4.8),(12.5,-5.7),(13.0,-5.6),(14.6,-5.4),
    (14.9,-5.45),(15.0,-5.7),(15.05,-3.5),(17.7,-4.3),(17.6,-6.3),(17.8,-6.4),(14.0,-6.8),(11.5,-7.2),
    (17.5,-7.5),(4.3,-7.9),(10.2,-8.4),(9.0,-8.8),(13.5,-8.2),(13.9,-9.1),(7.9,-10.1),(11.2,-10.5),
    (11.9,-11.9),(11.1,-12.5),(9.7,-12.2),(13.96,-11.9),(14.9,-12.4),(15.5,-11.3),(15.8,-11.1),
    (16.1,-11.2),(16.7,-10.5),(16.9,-11.6),(17.5,-12.35),(5.65,-11.8),(4.9,-12.2),(5.2,-12.95),
    (6.1,-13.8),(6.1,-14.1),(5.2,-14.4),(5.5,-14.9),(6.9,-13.6),(7.5,-13.9),(7.7,-14.3),(7.5,-14.3),
    (7.9,-12.2),(8.1,-12.9),(9.1,-13.2),(9.85,-14.2),(8.8,-14.65),(9.1,-14.75),(9.55,-14.75),
    (10.0,-14.85),(10.1,-15.0),(9.2,-15.3),(10.7,-14.55),(10.8,-14.2),(10.8,-13.5),(11.2,-15.2),
    (11.75,-14.05),(8.9,-15.8),(8.6,-16.0),(7.7,-16.1),(7.7,-16.8),(8.4,-16.8),(6.0,-16.2),(4.7,-16.7),
    (5.15,-16.6),(3.7,-16.2),(3.3,-16.8),(3.4,-16.7),(2.5,-15.1),(2.5,-15.7),(2.3,-15.9),(1.95,-15.6),
    (2.0,-13.3),(2.2,-17.1),(2.1,-18.2),(2.6,-19.1),(2.1,-19.6),(2.2,-20.3),(4.5,-18.8),(4.2,-20.1),
    (6.26,-18.5),(7.0,-18.5),(8.0,-19.1),(9.3,-18.1),(9.6,-18.5),(10.7,-18.2),(10.7,-16.2),(7.7,-15.45),
    (18.7,0.9),(18.4,-0.9),(20.3,-0.6),(21.5,-0.4),(23.2,-0.3),(21.8,-1.3),(21.6,-2.2),(23.3,-1.9),
    (27.0,-2.4),(19.5,-3.5),(17.7,-4.3),(18.2,-4.1),(18.3,-4.05),(20.4,-5.35),(20.9,-4.9),(21.7,-4.7),
    (22.1,-3.6),(22.5,-3.2),(22.4,-4.1),(23.0,-3.6),(23.2,-6.3),(24.0,-6.25),(25.0,-4.4),(26.0,-3.35),
    (26.4,-3.5),(26.6,-4.3),(27.5,-4.7),(27.7,-5.3),(28.5,-5.1),(29.0,-5.3),(27.8,-6.6),(25.7,-6.7),
    (25.6,-7.8),(26.9,-7.55),(26.9,-8.4),(28.2,-8.6),(26.05,-8.7),(25.8,-9.3),(26.1,-9.2),(25.8,-9.7),
    (24.8,-9.3),(24.8,-10.3),(24.3,-10.65),(23.6,-9.8),(23.4,-10.2),(22.9,-8.8),(22.5,-9.5),(22.5,-7.5),
    (21.8,-7.4),(21.3,-7.2),(20.6,-7.6),(19.8,-7.3),(19.3,-7.8),(19.3,-8.4),(17.5,-7.5),(17.5,-6.3),
    (17.8,-6.4),(30.6,-6.9),(31.4,-9.0),(31.9,-9.4),(30.3,-10.0),(28.9,-10.3),(29.1,-10.8),(29.9,-11.55),
    (29.3,-11.8),(27.5,-11.3),(25.4,-12.2),(25.2,-11.8),(26.5,-13.0),(27.1,-13.7),(28.1,-14.4),
    (28.4,-14.65),(28.8,-14.8),(30.5,-13.3),(31.6,-13.1),(29.8,-16.3),(27.9,-15.8),(26.7,-15.4),
    (25.5,-14.2),(25.4,-14.5),(24.8,-13.6),(24.7,-14.8),(24.3,-15.3),(23.8,-15.0),(23.4,-14.6),
    (22.55,-15.25),(22.65,-15.5),(22.5,-15.8),(21.5,-14.1),(21.0,-14.5),(20.5,-14.55),(20.1,-14.1),
    (19.9,-14.1),(19.6,-14.3),(19.0,-14.1),(19.1,-13.2),(19.8,-13.05),(20.5,-12.6),(21.5,-12.5),
    (22.1,-13.3),(22.8,-12.35),(22.1,-11.7),(21.5,-11.4),(20.3,-10.4),(19.95,-11.5),(18.1,-11.2),
    (18.4,-13.4),(18.2,-14.9),(17.7,-15.3),(18.0,-16.25),(18.1,-16.7),(19.3,-15.9),(19.6,-16.25),
    (18.9,-16.4),(18.7,-16.05),(20.2,-15.2),(21.3,-16.05),(21.8,-16.9),(22.0,-16.7),(22.5,-16.65),
    (22.5,-17.3),(22.5,-17.65),(21.2,-17.3),(20.7,-17.45),(20.1,-17.45),(19.0,-17.3),(18.6,-17.9),
    (18.96,-17.8),(18.8,-18.2),(19.3,-18.5),(19.8,-18.0),(20.2,-18.4),(17.8,-18.4),(17.7,-19.1),
    (18.3,-19.1),(18.5,-19.3),(19.35,-19.0),(19.5,-19.2),(18.6,-19.65),(18.8,-19.7),(18.2,-19.85),
    (18.2,-20.1),(19.9,-20.1),(19.55,-20.6),(19.8,-20.5),(20.2,-19.4),(20.4,-19.6),(20.7,-20.0),
    (21.1,-18.7),(21.4,-19.6),(21.15,-19.7),(21.7,-18.5),(22.3,-18.55),(22.6,-19.3),(22.9,-19.5),
    (22.4,-19.7),(23.3,-20.1),(23.3,-18.9),(23.6,-17.8),(23.9,-17.6),(24.1,-17.35),(24.4,-18.4),
    (23.9,-18.8),(24.2,-19.0),(24.7,-18.6),(24.7,-18.2),(25.1,-19.3),(25.0,-19.65),(25.5,-18.8),
    (25.6,-18.2),(25.3,-20.5),(25.7,-21.1),(26.8,-19.6),(27.4,-20.0),(27.0,-18.8),(27.2,-18.3),
    (27.7,-18.2),(27.6,-20.8),(29.1,-18.6),(29.1,-18.9),(29.35,-19.0),(30.4,-19.2),(26.15,-16.9),
    (25.6,-17.0),(25.4,-16.3),(25.05,-15.8),(24.1,-20.6),(23.6,-21.15),(21.96,-20.5),(22.75,-21.5),
    (21.3,-22.1),(20.5,-21.2),(20.1,-21.3),(19.35,-21.7),(17.8,-21.8),(21.65,-23.3),(22.5,-23.1),
    (23.9,-22.8),(24.8,-22.6),(25.6,-22.5),(25.8,-23.2),(26.9,-23.5),(27.2,-22.6),(18.5,-24.9),
    (17.5,-18.3),(17.5,-20.5),(17.6,-16.5),(17.5,-17.0),
]
pbmmc2_right_more = [
    (18.5,-14.6),(19.4,-15.2),(20.1,-16.3),(20.8,-15.6),(21.7,-15.2),(22.9,-16.1),(23.5,-16.8),
    (24.2,-16.2),(19.2,-17.0),(20.5,-18.1),(21.6,-17.9),(23.0,-18.0),(24.8,-17.5),(26.0,-18.1),
    (18.9,-18.9),(20.0,-19.1),(21.9,-19.1),(23.7,-19.6),(24.6,-20.1),(26.2,-20.3),(19.0,-20.8),
    (20.9,-20.7),(22.3,-21.0),(23.2,-21.6),(24.7,-21.5),(21.1,-13.2),(23.0,-13.8),(24.1,-12.4),
    (20.2,-12.1),(22.5,-11.0),(26.1,-11.6),(27.9,-12.4),(26.9,-16.6),(28.6,-17.2),(19.6,-22.2),
    (22.9,-22.3),
]

# ---- PBMMC-3 ----
pbmmc3_cluster = [
    (-9.6,11.9),(-9.3,13.2),(-9.1,14.3),(-9.0,12.4),(-8.9,15.5),(-8.8,11.4),(-8.7,13.8),(-8.6,16.6),
    (-8.5,12.8),(-8.4,14.9),(-8.3,10.6),(-8.2,13.4),(-8.1,15.9),(-8.0,12.0),(-8.0,17.3),(-7.9,14.4),
    (-7.8,11.1),(-7.7,13.1),(-7.6,15.3),(-7.5,16.8),(-7.5,12.5),(-7.4,14.0),(-7.3,10.3),(-7.2,15.9),
    (-7.1,13.4),(-7.0,11.8),(-7.0,17.8),(-6.9,14.7),(-6.8,12.6),(-6.7,16.3),(-6.6,13.8),(-6.5,10.9),
    (-6.5,15.2),(-6.4,12.1),(-6.3,17.0),(-6.2,14.2),(-6.1,13.0),(-6.0,15.8),(-6.0,11.4),(-5.9,14.6),
    (-5.8,16.7),(-5.7,12.5),(-5.6,13.7),(-5.6,18.3),(-5.5,15.4),(-5.4,11.0),(-5.3,14.3),(-5.2,16.1),
    (-5.2,12.9),(-5.1,13.9),(-5.0,15.1),(-4.9,10.3),(-4.9,17.2),(-4.8,12.2),(-4.7,14.7),(-4.6,16.4),
    (-4.5,13.3),(-4.4,11.5),(-4.3,15.6),(-4.2,14.1),(-4.1,12.6),(-4.0,17.8),(-3.9,13.6),(-3.8,10.8),
    (-3.7,15.0),(-3.6,12.0),(-3.5,14.4),(-3.4,16.5),(-3.3,11.3),(-3.1,13.1),(-3.0,9.8),(-2.9,12.4),
    (-2.7,14.0),(-2.5,10.8),(-2.4,12.9),(-2.2,11.7),(-7.7,18.7),(-6.6,19.1),(-4.9,19.5),(-8.3,9.5),
    (-6.9,9.0),(-5.8,8.6),(-2.0,13.9),(-1.6,12.0),(-1.2,10.9),(-0.8,13.2),(-0.4,11.4),(-6.2,15.5),
    (-6.8,14.0),(-5.5,14.8),(-7.3,12.9),(-5.9,12.2),(-6.4,16.2),(-5.0,13.6),(-7.9,13.0),(-9.3,11.1),
    (-8.7,12.9),(-8.6,14.4),(-8.4,13.6),(-8.3,15.4),(-8.2,12.1),(-8.1,14.0),(-8.0,13.1),(-7.9,15.7),
    (-7.8,12.4),(-7.8,14.7),(-7.7,16.2),(-7.6,13.7),(-7.5,11.7),(-7.4,15.0),(-7.4,13.0),(-7.3,16.6),
    (-7.2,14.4),(-7.1,12.3),(-7.0,15.5),(-7.0,13.9),(-6.9,11.4),(-6.9,16.9),(-6.8,13.2),(-6.7,15.0),
    (-6.6,12.0),(-6.6,14.4),(-6.5,16.6),(-6.4,13.5),(-6.3,11.6),(-6.3,15.7),(-6.2,12.8),(-6.1,14.9),
    (-6.1,16.4),(-6.0,13.6),(-5.9,12.0),(-5.9,15.3),(-5.8,14.1),(-5.8,17.4),(-5.7,13.1),(-5.6,15.9),
    (-5.6,11.8),(-5.5,14.0),(-5.4,16.7),(-5.4,12.8),(-5.3,15.2),(-5.2,13.4),(-5.1,17.6),(-5.1,11.6),
    (-5.0,14.5),(-5.0,16.3),(-4.9,12.9),(-4.8,15.5),(-4.7,13.8),(-4.6,11.9),(-4.5,15.0),(-4.5,17.0),
    (-4.4,14.2),(-4.3,12.9),(-4.2,16.0),(-4.1,13.5),(-3.9,14.8),(-3.8,12.4),(-3.6,13.4),(-3.5,15.6),
    (-3.3,14.4),(-3.2,12.6),(-7.6,17.4),(-6.2,18.0),(-5.2,18.6),(-8.5,16.0),(-8.9,13.6),(-8.0,10.9),
    (-6.7,10.5),(-5.5,10.2),(-4.1,11.0),(-6.4,14.9),(-6.0,14.4),(-6.7,13.6),(-5.7,14.9),(-7.1,14.8),
    (-5.2,20.1),(-7.4,19.4),(-4.9,18.8),(-4.6,18.5),(-5.6,18.4),(2.6,16.3),(3.45,15.7),(3.3,13.9),
    (2.7,13.7),(1.8,12.2),(1.3,11.1),(2.8,8.9),(1.2,9.6),(2.2,8.4),(0.2,11.2),(0.7,10.9),(-0.7,11.1),
    (-1.7,11.6),(-2.5,11.4),(-3.2,10.8),(-2.0,10.0),(-1.2,10.0),(-0.5,10.0),(-2.4,8.3),(-1.7,7.8),
    (-0.9,7.7),(0.5,6.9),(1.5,6.5),(2.5,7.5),(3.1,7.3),(-2.9,16.9),(-3.9,17.3),(-2.4,16.7),(-2.5,15.7),
    (-1.0,15.6),(-1.9,14.1),(-2.1,13.9),(-3.4,13.9),(-2.9,13.3),(-3.0,12.0),(-4.0,13.1),
]
pbmmc3_cluster_core = [
    (-7.9,16.5),(-7.1,16.8),(-6.4,16.4),(-5.6,16.7),(-5.0,16.5),(-4.8,17.1),(-8.3,16.1),(-7.6,15.9),
    (-6.9,16.2),(-6.2,15.9),(-5.5,16.2),(-4.7,15.8),(-8.6,15.2),(-8.0,15.5),(-7.3,15.3),(-6.7,15.6),
    (-6.0,15.2),(-5.3,15.5),(-4.6,15.3),(-8.4,14.6),(-7.7,14.9),(-7.0,14.6),(-6.3,14.8),(-5.6,14.5),
    (-4.9,14.8),(-4.3,14.6),(-8.8,14.1),(-8.1,14.3),(-7.4,14.1),(-6.7,14.3),(-6.0,14.0),(-5.3,14.2),
    (-4.6,14.0),(-8.5,13.5),(-7.8,13.7),(-7.1,13.4),(-6.4,13.7),(-5.7,13.5),(-5.0,13.7),(-4.4,13.4),
    (-8.7,12.8),(-8.0,13.1),(-7.3,12.8),(-6.6,13.1),(-5.9,12.8),(-5.2,13.1),(-4.5,12.8),(-8.3,12.3),
    (-7.6,12.5),(-6.9,12.2),(-6.2,12.5),(-5.5,12.2),(-4.8,12.4),(-7.9,11.7),(-7.2,11.9),(-6.5,11.6),
    (-5.8,11.9),(-5.1,11.6),(-7.5,11.1),(-6.8,11.3),(-6.1,11.0),(-5.4,11.3),
    (-7.45,15.6),(-6.85,15.0),(-6.15,15.45),(-5.65,15.05),(-7.25,14.45),(-6.55,14.55),(-5.85,14.35),
    (-5.15,14.6),(-7.55,13.95),(-6.95,13.85),(-6.25,14.1),(-5.55,13.9),(-4.95,14.2),(-7.65,13.25),
    (-6.95,13.2),(-6.2,13.35),(-5.45,13.4),(-7.25,12.55),(-6.55,12.65),(-5.85,12.6),(-5.15,12.7),
    (-6.85,12.0),(-6.15,11.95),(-5.45,11.75),(-7.95,14.0),(-8.15,12.6),(-4.75,14.35),(-4.95,15.25),
    (-6.45,15.95),(-5.85,16.45),
    (-7.6,15.7),(-7.2,15.1),(-6.8,15.8),(-6.4,15.2),(-6.0,15.7),(-5.6,15.1),(-5.3,15.7),(-7.5,14.6),
    (-7.1,14.1),(-6.7,14.7),(-6.3,14.2),(-5.9,14.8),(-5.5,14.3),(-5.2,14.8),(-7.6,13.5),(-7.2,13.0),
    (-6.8,13.6),(-6.4,13.0),(-6.0,13.5),(-5.6,13.0),(-5.3,13.6),(-7.4,12.4),(-7.0,12.8),(-6.6,12.3),
    (-6.2,12.7),(-5.8,12.3),(-5.4,12.6),(-8.2,14.8),(-8.0,12.5),(-4.9,13.0),(-4.8,15.9),(-6.9,16.5),
    (-6.1,16.9),(-7.8,15.2),(-4.6,12.2),(-8.3,13.9),(-4.7,14.3),
]
pbmmc3_arm = [
    (-8.6,-0.8),(-8.4,-0.3),(-8.3,-1.2),(-8.2,0.2),(-8.1,-0.6),(-8.0,-1.5),(-7.9,0.5),(-7.8,-0.2),
    (-7.7,-0.9),(-7.6,0.9),(-7.5,0.2),(-7.4,-0.5),(-7.3,1.3),(-7.3,-1.1),(-7.2,0.6),(-7.1,-0.1),
    (-7.0,1.6),(-7.0,0.9),(-6.9,-0.6),(-6.8,0.3),(-6.7,1.2),(-6.6,2.0),(-6.6,-0.2),(-6.5,0.7),
    (-6.4,1.6),(-6.3,0.1),(-6.3,2.4),(-6.2,1.0),(-6.1,1.9),(-6.0,0.4),(-6.0,2.8),(-5.9,1.4),(-5.8,2.2),
    (-5.7,0.8),(-5.7,3.0),(-5.6,1.7),(-5.5,2.5),(-5.4,1.1),(-5.4,3.3),(-5.3,2.0),(-5.2,2.8),(-5.1,1.4),
    (-5.0,3.6),(-5.0,2.3),(-4.9,3.1),(-4.8,1.8),(-4.7,2.7),(-4.6,3.8),(-4.5,2.2),(-4.4,3.3),(-4.3,2.7),
    (-4.2,4.1),(-4.1,3.0),(-4.0,3.6),(-3.9,2.5),(-3.8,4.3),(-3.7,3.3),(-3.6,3.9),(-3.5,2.9),(-3.4,4.6),
    (-3.3,3.6),(-3.2,4.2),(-3.1,3.2),(-3.0,4.9),(-2.9,3.9),(-2.8,4.5),(-2.7,3.5),(-2.6,5.1),(-2.5,4.2),
    (-2.4,4.8),(-2.2,4.0),(-2.1,5.4),(-2.0,4.6),(-1.8,5.1),(-1.7,4.3),(-1.5,5.6),(-1.4,4.8),(-1.2,5.3),
    (-1.0,4.6),(-0.9,5.9),(-0.7,5.1),(-0.5,5.6),(-0.3,6.3),(-0.2,4.9),(0.0,5.8),(0.2,6.5),(0.3,5.3),
    (0.5,6.0),(0.7,6.8),(0.9,5.6),(1.1,6.3),(1.4,7.0),(1.6,5.9),(1.9,6.6),(-6.8,1.8),(-7.6,-1.6),
    (-8.9,-0.4),(-8.0,1.0),(-6.1,-0.6),(-5.1,0.6),(-4.0,1.6),(-3.0,2.6),(-6.9,2.6),(-5.9,3.7),(-4.8,4.5),
    (-3.9,5.2),(-2.9,5.6),(-5.3,-0.1),(-4.4,1.0),
    (-6.9,9.4),(-7.1,9.8),(-6.6,8.7),(-6.2,9.2),(-5.7,6.9),(-4.4,7.6),(-4.8,7.9),(-3.9,7.0),(-3.5,8.7),
    (-3.3,5.8),(-2.9,5.9),(-2.6,5.8),(-2.2,5.9),(-1.9,5.7),(-1.5,5.7),(-1.0,6.2),(-0.8,6.9),(-0.5,6.8),
    (-0.3,7.1),(-0.1,7.7),(0.2,7.4),(0.3,6.7),(-2.9,9.9),(-2.4,9.3),(-2.2,10.4),(-3.3,10.0),(-1.7,8.7),
    (-1.2,10.0),(-1.4,4.8),(-0.8,5.7),(-0.1,5.2),(0.2,4.2),(-3.5,5.0),(-5.4,4.6),(-6.3,3.5),(-7.2,3.3),
    (-4.8,5.1),(-5.6,7.0),(-4.4,9.3),(-5.1,10.4),
]
pbmmc3_arm_core = [
    (-8.3,-0.7),(-8.25,-0.15),(-8.35,0.3),(-8.0,-0.8),(-7.95,-0.3),(-8.05,0.2),(-8.0,0.65),
    (-7.7,-0.55),(-7.75,-0.1),(-7.65,0.4),(-7.7,0.9),(-7.4,-0.85),(-7.45,-0.4),(-7.35,0.1),(-7.4,0.6),
    (-7.45,1.1),(-7.1,-0.7),(-7.15,-0.2),(-7.05,0.3),(-7.1,0.8),(-7.15,1.3),(-7.05,1.65),(-6.8,-0.8),
    (-6.85,-0.3),(-6.75,0.2),(-6.8,0.7),(-6.85,1.2),(-6.75,1.7),(-6.8,2.05),(-6.5,-0.6),(-6.55,-0.1),
    (-6.45,0.4),(-6.5,0.9),(-6.55,1.4),(-6.45,1.9),(-6.5,2.3),(-6.2,-0.4),(-6.25,0.1),(-6.15,0.6),
    (-6.2,1.1),(-6.25,1.6),(-6.15,2.1),(-6.2,2.6),(-5.9,0.0),(-5.95,0.5),(-5.85,1.0),(-5.9,1.5),
    (-5.95,2.0),(-5.85,2.5),(-5.9,3.0),(-5.6,0.2),(-5.65,0.7),(-5.55,1.2),(-5.6,1.7),(-5.65,2.2),
    (-5.55,2.7),(-5.6,3.2),(-5.3,0.4),(-5.35,0.9),(-5.25,1.4),(-5.3,1.9),(-5.35,2.4),(-5.25,2.9),
    (-5.3,3.4),(-5.0,0.7),(-5.05,1.2),(-4.95,1.7),(-5.0,2.2),(-5.05,2.7),(-4.95,3.2),(-5.0,3.7),
    (-4.7,1.1),(-4.75,1.6),(-4.65,2.1),(-4.7,2.6),(-4.75,3.1),(-4.65,3.6),(-4.7,4.0),(-4.4,1.5),
    (-4.45,2.0),(-4.35,2.5),(-4.4,3.0),(-4.45,3.5),(-4.35,4.0),(-4.1,1.8),(-4.15,2.3),(-4.05,2.8),
    (-4.1,3.3),(-4.15,3.8),(-4.05,4.3),(-3.8,2.1),(-3.85,2.6),(-3.75,3.1),(-3.8,3.6),(-3.85,4.1),
    (-3.5,2.6),(-3.55,3.1),(-3.45,3.6),(-3.5,4.1),(-3.55,4.5),(-3.2,3.1),(-3.25,3.6),(-3.15,4.1),
    (-3.2,4.6),
]
pbmmc3_band = [
    (2.6,16.3),(3.6,15.8),(4.8,15.1),(5.9,16.1),(6.1,15.4),(10.8,17.4),(12.6,17.5),(11.0,15.1),
    (10.9,13.9),(9.4,14.4),(13.4,14.9),(15.4,14.8),(16.2,14.4),(14.7,13.8),(15.4,13.2),(17.1,12.9),
    (17.0,12.1),(15.0,12.0),(18.8,12.3),(19.2,11.5),(20.4,11.2),(20.7,11.1),(21.4,10.6),(22.1,10.6),
    (23.4,11.9),(23.7,11.3),(24.4,10.8),(23.1,10.9),(27.8,9.8),(20.1,10.4),(19.4,10.1),(20.4,10.0),
    (18.4,9.6),(17.9,9.2),(16.8,10.7),(16.3,9.9),(15.5,10.5),(14.3,9.9),(13.7,9.4),(13.1,8.5),(13.3,8.1),
    (14.0,8.1),(14.5,7.5),(15.2,8.5),(15.3,8.1),(16.2,8.2),(16.8,7.7),(17.5,8.8),(18.7,8.8),(19.4,8.3),
    (20.1,7.9),(21.1,8.1),(21.9,9.0),(22.1,7.7),(22.6,6.7),(22.8,7.9),(23.9,7.9),(24.3,7.1),(24.9,7.1),
    (25.5,8.1),(26.2,7.9),(26.7,7.3),(26.5,6.9),(26.1,7.0),(23.9,5.5),(23.1,5.7),(22.4,5.0),(22.2,4.6),
    (22.2,4.2),(21.6,3.7),(22.4,3.0),(21.3,2.6),(21.4,1.4),(20.8,3.0),(20.7,4.4),(20.6,6.1),(21.1,6.9),
    (20.0,6.5),(19.2,6.5),(19.5,6.9),(19.6,5.9),(18.5,5.2),(18.95,4.6),(18.6,4.4),(18.4,3.8),(18.0,4.4),
    (18.2,5.5),(17.5,6.1),(17.2,5.5),(16.8,6.5),(17.2,6.9),(16.7,7.1),(16.2,6.1),(16.0,5.4),(16.3,4.6),
    (16.8,3.4),(17.1,2.2),(17.2,1.6),(16.7,2.6),(16.1,4.3),(15.7,5.5),(15.5,6.5),(15.2,6.1),(14.8,7.3),
    (14.4,6.9),(14.0,6.7),(13.8,5.9),(13.7,6.1),(13.1,7.0),(12.5,7.6),(12.8,6.9),(12.2,6.7),(11.8,7.1),
    (11.6,7.9),(10.8,8.0),(10.7,7.4),(10.96,7.6),(11.3,6.9),(12.0,6.3),(13.1,5.5),(14.5,5.25),(14.8,4.0),
    (15.2,3.6),(15.3,3.0),(15.8,3.2),(16.3,3.6),(17.2,2.6),(18.2,2.6),(18.6,2.6),(19.0,4.6),(13.0,1.7),
    (13.3,1.1),(12.4,0.7),(14.9,0.9),(9.5,1.1),(9.8,3.6),(10.1,3.6),(9.1,4.4),(8.3,4.8),(7.8,3.4),
    (7.4,5.3),(7.25,6.1),(6.75,7.1),(6.4,8.1),(6.75,9.0),(7.2,9.4),(7.8,9.8),(8.1,10.4),(8.6,9.6),
    (9.1,9.2),(9.3,7.9),(9.8,7.5),(10.45,7.5),(9.9,6.5),(10.6,6.1),(11.5,5.7),(11.8,4.8),(12.5,4.4),
    (6.2,9.8),(5.9,10.0),(5.4,9.0),(5.1,8.1),(4.9,6.7),(4.6,6.5),(5.1,7.3),(4.2,6.1),(3.5,6.9),(3.0,7.3),
    (2.7,7.5),(2.5,6.3),(3.0,6.1),(2.9,5.7),(3.5,6.5),(4.5,7.6),(4.8,8.3),(4.6,10.6),(4.5,10.9),
    (5.0,10.7),(3.6,10.6),(3.4,11.7),(3.8,12.3),(4.7,12.7),(5.3,14.2),(5.7,12.9),(6.75,12.2),(7.0,11.9),
    (7.8,13.1),(8.2,12.2),(8.5,12.9),(9.4,11.2),(10.45,11.7),(10.6,11.3),(11.5,10.4),(12.3,10.3),
    (13.1,11.6),(14.3,9.8),(7.8,3.8),(8.3,2.9),(9.5,3.0),(10.2,3.8),
    (-0.8,6.3),(-0.5,6.7),(-0.2,7.3),(0.2,6.5),(0.7,6.3),(1.0,6.7),(1.3,5.9),(1.7,6.3),(2.0,5.7),
    (2.5,5.1),(2.9,5.9),(3.3,6.3),(3.2,7.1),(2.35,6.7),(1.85,7.5),(0.8,5.05),(0.2,4.6),(-0.8,5.05),
    (-1.5,5.45),(-2.0,6.3),
]
pbmmc3_band_more = [
    (11.3,8.5),(12.0,7.9),(12.9,8.9),(13.6,8.7),(14.2,7.0),(14.9,6.6),(15.6,7.2),(16.0,7.9),(16.5,6.8),
    (17.0,8.1),(17.8,7.5),(18.2,6.6),(18.9,7.4),(19.8,7.1),(20.4,8.4),(21.2,7.3),(21.7,8.5),(22.4,8.3),
    (23.4,7.5),(24.0,8.7),(24.7,7.8),(25.4,7.3),(23.0,6.4),(21.9,6.0),(20.3,5.3),(19.4,5.0),(17.9,5.0),
    (17.0,4.2),(15.0,5.0),(14.1,4.6),(13.4,6.6),(12.5,5.9),(10.9,5.0),(10.2,5.9),(8.8,5.6),(8.0,6.0),
    (7.0,8.0),(6.0,8.6),(5.4,7.8),(3.8,8.0),(2.6,9.0),(4.1,9.8),(6.6,10.6),(8.9,8.1),(9.7,9.0),(11.8,9.4),
    (12.6,9.6),(15.8,9.3),(18.6,10.1),(21.8,9.6),(22.9,9.6),(26.8,8.5),(25.9,9.3),(20.9,4.9),(18.1,3.2),
]
pbmmc3_low = [
    (-9.5,-4.0),(-9.3,-3.5),(-9.2,-4.6),(-9.0,-4.1),(-8.9,-3.3),(-8.8,-4.9),(-8.7,-3.8),(-8.6,-4.4),
    (-8.5,-5.2),(-8.4,-3.6),(-8.3,-4.1),(-8.2,-4.7),(-8.1,-3.3),(-8.0,-4.3),(-7.9,-5.0),(-7.8,-3.8),
    (-7.7,-4.5),(-7.6,-5.4),(-7.5,-4.0),(-7.4,-4.8),(-7.3,-3.6),(-7.2,-4.3),(-7.1,-5.1),(-7.9,-5.7),
    (-8.6,-5.6),(-9.1,-5.2),(-7.0,-3.9),
    (3.4,-1.2),(-0.5,-5.6),(1.7,-6.6),(1.3,-7.0),(2.2,-8.9),(2.3,-9.7),(1.2,-10.3),(0.1,-9.8),
    (-2.3,-8.8),(-3.5,-9.1),(-3.4,-10.9),(1.3,-12.7),(-4.5,-11.6),(-3.9,-12.2),(-4.5,-13.1),(-4.7,-9.8),
    (-4.6,-9.2),(-4.4,-8.3),(-4.8,-7.8),(-5.3,-8.5),(-5.4,-8.0),(-5.8,-6.8),(-6.0,-7.0),(-5.7,-6.3),
    (-5.9,-5.4),(-6.6,-5.2),(-6.9,-4.8),(-6.9,-3.9),(-7.4,-3.2),(-7.0,-3.2),(-6.2,-11.9),(-5.7,-11.0),
    (-5.4,-10.6),(-5.6,-10.2),(-5.9,-9.6),(-7.2,-9.8),(-7.1,-8.6),(-6.5,-8.0),(-6.4,-7.9),(-6.7,-8.0),
    (-7.6,-7.5),(-6.8,-6.9),(-7.3,-6.8),(-8.3,-6.9),(-8.7,-7.8),(-9.1,-7.3),(-8.1,-8.5),(-7.9,-9.0),
    (-10.3,-5.5),(-10.0,-4.8),(-9.2,-6.0),
    (-8.3,-6.4),(-7.2,-7.4),(-6.55,-7.9),(-6.2,-7.7),(-5.7,-8.0),(-5.2,-8.5),(-5.9,-9.05),(-4.6,-9.3),
    (-4.8,-9.6),(-5.4,-10.1),(-4.5,-10.6),(-5.6,-11.1),(-7.1,-10.4),(-8.7,-7.7),(-7.56,-8.4),
    (5.2,0.41),(7.2,-0.35),(12.4,0.7),(13.2,-0.2),(14.9,0.93),(15.6,-3.25),(5.7,-4.1),
    (4.6,-4.4),(7.5,-7.2),(7.3,-7.8),(4.06,-7.4),(15.9,-7.5),(4.2,-8.8),(4.9,-8.9),
    (5.4,-9.0),(6.1,-9.3),(6.3,-10.45),(6.9,-9.7),(7.1,-9.8),(7.4,-9.6),(8.2,-8.9),(5.0,-10.2),
    (4.5,-10.7),(4.5,-12.0),(3.8,-13.5),(5.2,-13.0),(6.7,-12.8),(7.1,-13.3),(7.4,-13.0),(7.7,-11.8),
    (7.7,-12.8),(8.2,-12.5),(6.8,-14.2),(7.2,-14.1),(8.5,-10.7),(9.2,-10.45),(9.4,-9.7),(9.4,-9.8),
    (9.6,-10.7),(9.8,-10.6),(9.8,-10.7),(9.2,-12.7),(9.6,-13.2),(8.7,-14.2),(8.1,-15.66),(9.8,-15.2),
    (10.2,-12.2),(10.4,-11.8),(10.7,-12.4),(10.4,-13.3),(10.7,-9.7),(11.25,-13.9),(10.5,-14.6),
    (11.35,-10.5),(11.9,-9.5),(12.3,-9.3),(12.8,-11.0),(12.9,-10.5),(12.8,-11.5),(13.9,-11.4),
    (13.8,-12.1),(14.2,-10.3),(14.2,-10.7),(14.7,-10.4),(14.7,-11.4),(14.8,-11.8),(14.6,-13.0),
    (14.95,-13.8),(17.1,-10.9),(17.9,-12.0),(17.6,-13.4),
    (19.4,-0.2),(21.8,-1.4),(21.6,-2.06),(23.2,-2.5),(26.8,-2.0),(19.2,-4.3),(23.2,-4.5),(25.9,-4.3),
    (26.6,-5.9),(21.8,-5.8),(22.9,-6.2),(24.1,-5.7),(19.9,-5.6),(31.25,-5.8),(31.4,-5.9),(25.8,-7.5),
    (23.9,-8.2),(24.8,-8.6),(18.6,-9.55),(20.8,-11.4),(28.2,-11.4),(17.9,-12.0),(18.7,-12.6),
    (22.0,-12.65),(17.6,-13.4),(18.7,-14.4),(19.55,-14.9),(18.6,-15.4),(22.8,-14.2),(21.4,-15.5),
]

cells = {
    "PBMMC-1": pbmmc1_blob + pbmmc1_blob_core + pbmmc1_arm + pbmmc1_band + pbmmc1_band_more + pbmmc1_low,
    "PBMMC-2": (pbmmc2_blob + pbmmc2_blob_core + pbmmc2_upper + pbmmc2_band_more + pbmmc2_arc
                + pbmmc2_arc_core + pbmmc2_arc_fill + pbmmc2_core + pbmmc2_low + pbmmc2_right_more),
    "PBMMC-3": (pbmmc3_cluster + pbmmc3_cluster_core + pbmmc3_arm + pbmmc3_arm_core + pbmmc3_band
                + pbmmc3_band_more + pbmmc3_low),
}

fig = go.Figure()
for name, color in zip(samples, colors):
    pts = cells[name]
    fig.add_trace(go.Scatter(
        x=[p[0] for p in pts], y=[p[1] for p in pts],
        mode="markers", name=name, showlegend=False,
        marker=dict(color=color, size=5, line=dict(width=0)),
    ))
# legend entries drawn with big dots
for name, color in zip(samples, colors):
    fig.add_trace(go.Scatter(
        x=[None], y=[None], mode="markers", name=name,
        marker=dict(color=color, size=16, line=dict(color=color, width=5)),
    ))

axis_style = dict(
    showline=True, linecolor="black", linewidth=2,
    ticks="outside", ticklen=7, tickwidth=2, tickcolor="black",
    tickfont=dict(size=31, color="black"),
    showgrid=False, zeroline=False,
)
fig.update_xaxes(range=[-12.63, 33.99], tickvals=x_ticks, ticktext=x_tick_labels,
                 title=dict(text="PC_1", font=dict(size=35), standoff=8), **axis_style)
fig.update_yaxes(range=[-27.04, 22.4], tickvals=y_ticks, ticktext=y_tick_labels,
                 title=dict(text="PC_2", font=dict(size=35), standoff=12), **axis_style)

# page body adds 8px, so the figure is drawn 8px smaller on each side
fig.update_layout(
    width=1336, height=952,
    margin=dict(l=135, r=278, t=24, b=127),
    paper_bgcolor="white", plot_bgcolor="white",
    font=dict(family="Liberation Sans, Arial, sans-serif", color="black"),
    legend=dict(x=1.022, y=0.498, xanchor="left", yanchor="middle",
                font=dict(size=30), itemsizing="trace", itemwidth=66,
                bgcolor="rgba(0,0,0,0)"),
)

fig.write_html("out.html")
